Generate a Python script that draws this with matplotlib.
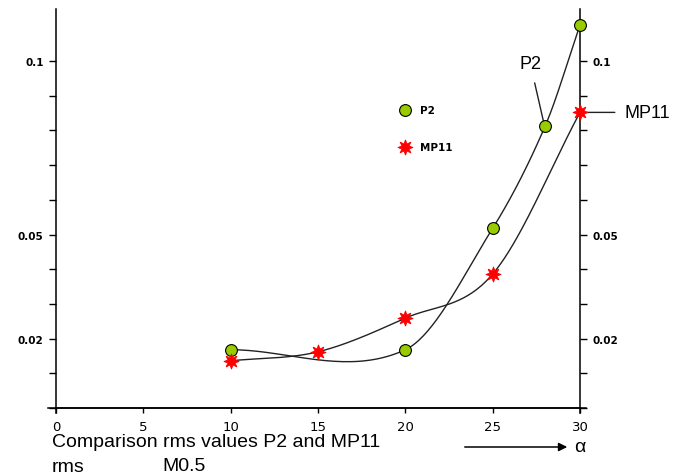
import numpy as np
import matplotlib
matplotlib.use("Agg")
import matplotlib.pyplot as plt
from matplotlib.ticker import FixedLocator, FixedFormatter

# data
alpha_p2 = [10, 20, 25, 28, 30]
rms_p2 = [0.0168, 0.0168, 0.0518, 0.0812, 0.1104]

alpha_mp11 = [10, 15, 20, 25, 30]
rms_mp11 = [0.0136, 0.0162, 0.0259, 0.0386, 0.0852]

x_ticks = [0, 5, 10, 15, 20, 25, 30]
y_ticks = [0.0, 0.01, 0.02, 0.03, 0.04, 0.05, 0.06, 0.07, 0.08, 0.09, 0.10]
y_tick_labels = ["", "", "0.02", "", "", "0.05", "", "", "", "", "0.1"]

GREEN = "#99cc00"
RED = "#ff0000"


def smooth_curve(x, y, n=40):
    # Catmull-Rom style cubic through the points (what the old drawing
    # program seems to have used for its smoothed lines)
    x = np.asarray(x, float)
    y = np.asarray(y, float)
    m = np.empty_like(y)
    m[0] = (y[1] - y[0]) / (x[1] - x[0])
    m[-1] = (y[-1] - y[-2]) / (x[-1] - x[-2])
    m[1:-1] = (y[2:] - y[:-2]) / (x[2:] - x[:-2])
    xs_all, ys_all = [], []
    for i in range(len(x) - 1):
        h = x[i + 1] - x[i]
        t = np.linspace(0, 1, n)
        h00 = 2 * t ** 3 - 3 * t ** 2 + 1
        h10 = t ** 3 - 2 * t ** 2 + t
        h01 = -2 * t ** 3 + 3 * t ** 2
        h11 = t ** 3 - t ** 2
        xs_all.append(x[i] + t * h)
        ys_all.append(h00 * y[i] + h10 * h * m[i] + h01 * y[i + 1] + h11 * h * m[i + 1])
    return np.concatenate(xs_all), np.concatenate(ys_all)


fig = plt.figure(figsize=(6.89, 4.77), dpi=100)
ax = fig.add_axes([56 / 689, 1 - 409 / 477, 524 / 689, 399 / 477])

xs, ys = smooth_curve(alpha_p2, rms_p2)
ax.plot(xs, ys, color="#222222", lw=1.0, zorder=2)
xs, ys = smooth_curve(alpha_mp11, rms_mp11)
ax.plot(xs, ys, color="#222222", lw=1.0, zorder=2)

ax.plot(alpha_p2, rms_p2, ls="none", marker="o", ms=8.5, mfc=GREEN,
        mec="black", mew=0.8, label="P2", zorder=4, clip_on=False)
ax.plot(alpha_mp11, rms_mp11, ls="none", marker=(8, 1, 0), ms=11, mfc=RED,
        mec=RED, mew=0.6, label="MP11", zorder=4, clip_on=False)

ax.set_xlim(0, 30)
ax.set_ylim(0, 0.115)

ax.spines["top"].set_visible(False)
for s in ("left", "right", "bottom"):
    ax.spines[s].set_linewidth(1.1)

ax.xaxis.set_major_locator(FixedLocator(x_ticks))
ax.yaxis.set_major_locator(FixedLocator(y_ticks))
ax.yaxis.set_major_formatter(FixedFormatter(y_tick_labels))
ax.tick_params(axis="x", direction="out", length=3.5, width=1, pad=5,
               labelsize=9.5)
ax.tick_params(axis="y", direction="out", length=5, width=1, pad=4,
               labelsize=7.5, right=True, labelright=True)
for lab in ax.get_yticklabels():
    lab.set_fontweight("bold")

# little overshoot of the axis lines at the corners
ax.plot([-0.015, 1.012], [0, 0], transform=ax.transAxes, color="black",
        lw=1.1, clip_on=False)
ax.plot([1, 1], [-0.012, 0], transform=ax.transAxes, color="black",
        lw=1.1, clip_on=False)
ax.plot([0, 0], [-0.012, 0], transform=ax.transAxes, color="black",
        lw=1.1, clip_on=False)

leg = ax.legend(loc="center left", bbox_to_anchor=(0.656, 0.70),
                frameon=False, handlelength=1.0, handletextpad=0.9,
                labelspacing=2.6, borderpad=0, borderaxespad=0,
                prop={"weight": "bold", "size": 7.5})

# labels with leader lines
ax.annotate("P2", xy=(27.9, 0.0828), xytext=(27.15, 0.0993),
            fontsize=13, family="Liberation Sans", ha="center", va="center",
            arrowprops=dict(arrowstyle="-", color="#222222", lw=1,
                            shrinkA=6, shrinkB=0),
            annotation_clip=False)
ax.annotate("MP11", xy=(30.15, rms_mp11[-1]), xytext=(32.55, rms_mp11[-1]),
            fontsize=13, family="Liberation Sans", ha="left", va="center",
            arrowprops=dict(arrowstyle="-", color="#222222", lw=1,
                            shrinkA=5, shrinkB=0),
            annotation_clip=False)

# caption under the chart
fig.text(52 / 689, 1 - 443 / 477, "Comparison rms values P2 and MP11",
         fontsize=14, family="Liberation Sans", va="center", ha="left")
fig.text(52 / 689, 1 - 468 / 477, "rms", fontsize=14,
         family="Liberation Sans", va="center", ha="left")
fig.text(162 / 689, 1 - 467 / 477, "M0.5", fontsize=14,
         family="Liberation Sans", va="center", ha="left")
fig.patches.append(matplotlib.patches.FancyArrowPatch(
    (462 / 689, 1 - 448 / 477), (570 / 689, 1 - 448 / 477),
    transform=fig.transFigure, arrowstyle="-|>,head_length=5,head_width=2.5",
    color="black", lw=1.1))
fig.text(574 / 689, 1 - 448 / 477, "α", fontsize=14,
         family="Liberation Sans", va="center", ha="left")

fig.savefig("out.png", dpi=100)
